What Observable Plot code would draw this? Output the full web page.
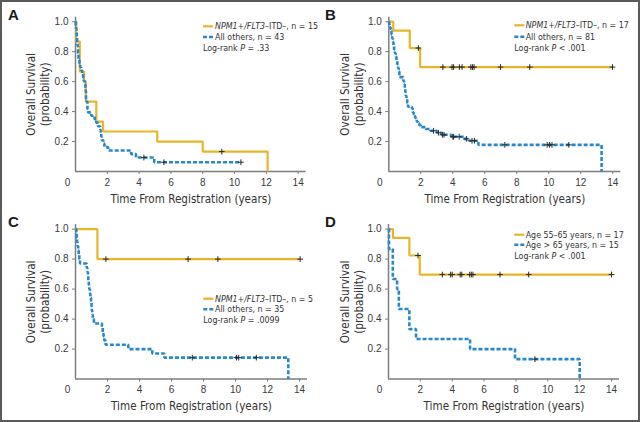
<!DOCTYPE html>
<html>
<head>
<meta charset="utf-8">
<script src="https://cdn.jsdelivr.net/npm/d3@7"></script>
<script src="https://cdn.jsdelivr.net/npm/@observablehq/plot@0.6"></script>
<style>
  body { margin: 0; background: #fff; }
  #root { position: relative; width: 640px; height: 422px; background: #fff; overflow: hidden; }
  .panel { position: absolute; width: 320px; height: 211px; }
  .panel svg { position: absolute; left: 0; top: 0; }
  .frame { position: absolute; left: 0; top: 0; width: 640px; height: 422px; box-sizing: border-box; border: 2px solid #5a5a5a; pointer-events: none; }
</style>
</head>
<body>
<div id="root"><div class="frame"></div></div>
<script>
// ---------- data ----------
const xTicks = [2, 4, 6, 8, 10, 12, 14];
const yTicks = [0.2, 0.4, 0.6, 0.8, 1.0];
const xTitle = "Time From Registration (years)";
const yTitle = "Overall Survival\n(probability)";

// Panel A
const aYellowT = [0, 0.05, 0.27, 0.54, 0.65, 1.31, 1.73, 5.14, 8.0, 12.08];
const aYellowS = [1, 0.867, 0.667, 0.6, 0.467, 0.333, 0.267, 0.2, 0.133, 0];
const aYellowCens = [9.2];
const aBlueT = [0, 0.02, 0.04, 0.06, 0.08, 0.1, 0.13, 0.16, 0.19, 0.25, 0.3, 0.36, 0.42, 0.48, 0.52, 0.58, 0.62, 0.64, 0.66, 0.7, 0.75, 0.78, 0.99, 1.2, 1.3, 1.4, 1.55, 1.58, 1.62, 1.65, 1.75, 1.82, 2.05, 3.5, 3.8, 4.95, 10.4];
const aBlueS = [1, 0.977, 0.953, 0.930, 0.907, 0.860, 0.837, 0.791, 0.744, 0.721, 0.698, 0.674, 0.651, 0.628, 0.605, 0.581, 0.558, 0.535, 0.488, 0.465, 0.419, 0.395, 0.372, 0.349, 0.326, 0.302, 0.279, 0.256, 0.233, 0.209, 0.186, 0.163, 0.140, 0.116, 0.093, 0.062, 0.062];
const aBlueCens = [4.3, 5.56, 10.4];

// Panel B
const bYellowT = [0, 0.28, 1.31, 1.96, 13.98];
const bYellowS = [1, 0.941, 0.824, 0.697, 0.697];
const bYellowCens = [1.85, 3.38, 3.95, 4.05, 4.41, 4.58, 5.13, 5.23, 5.33, 6.98, 8.81, 13.98];
const bBlueT = [0, 0.02, 0.05, 0.08, 0.11, 0.14, 0.17, 0.21, 0.25, 0.29, 0.33, 0.38, 0.43, 0.48, 0.53, 0.58, 0.62, 0.66, 0.9, 0.95, 1.0, 1.03, 1.06, 1.1, 1.15, 1.2, 1.45, 1.5, 1.55, 1.6, 1.65, 1.7, 1.75, 1.82, 1.9, 2.0, 2.3, 2.6, 3.0, 3.3, 3.9, 4.7, 5.0, 5.6, 13.3];
const bBlueS = [1, 0.988, 0.975, 0.963, 0.951, 0.938, 0.914, 0.889, 0.864, 0.840, 0.815, 0.790, 0.765, 0.741, 0.716, 0.691, 0.667, 0.630, 0.605, 0.580, 0.556, 0.531, 0.506, 0.482, 0.457, 0.432, 0.420, 0.395, 0.383, 0.370, 0.358, 0.346, 0.333, 0.321, 0.309, 0.296, 0.284, 0.272, 0.259, 0.245, 0.232, 0.218, 0.205, 0.178, 0];
const bBlueCens = [2.8, 3.1, 3.35, 3.45, 4.0, 4.05, 4.4, 4.85, 5.2, 5.35, 7.25, 9.9, 10.05, 10.2, 11.25];

// Panel C
const cYellowT = [0, 1.37, 14.04];
const cYellowS = [1, 0.8, 0.8];
const cYellowCens = [1.9, 7.04, 8.9, 14.04];
const cBlueT = [0, 0.05, 0.08, 0.1, 0.13, 0.17, 0.2, 0.24, 0.28, 0.7, 0.74, 0.78, 0.8, 0.83, 0.86, 0.9, 0.93, 0.97, 1.0, 1.02, 1.05, 1.08, 1.15, 1.65, 1.7, 1.75, 1.8, 1.88, 3.3, 4.8, 5.55, 13.3];
const cBlueS = [1, 0.971, 0.943, 0.914, 0.886, 0.857, 0.829, 0.8, 0.771, 0.743, 0.714, 0.686, 0.657, 0.629, 0.6, 0.571, 0.543, 0.514, 0.486, 0.457, 0.429, 0.4, 0.371, 0.343, 0.314, 0.286, 0.257, 0.229, 0.2, 0.171, 0.143, 0];
const cBlueCens = [7.3, 10.06, 10.2, 11.3];

// Panel D
const dYellowT = [0, 0.28, 1.31, 1.96, 14.0];
const dYellowS = [1, 0.941, 0.824, 0.697, 0.697];
const dYellowCens = [1.85, 3.38, 3.9, 4.0, 4.5, 4.6, 5.1, 5.2, 5.3, 7.0, 8.8, 14.0];
const dBlueT = [0, 0.03, 0.27, 0.54, 0.65, 1.31, 1.73, 5.12, 7.94, 12.0];
const dBlueS = [1, 0.867, 0.667, 0.6, 0.467, 0.333, 0.267, 0.2, 0.133, 0];
const dBlueCens = [9.19];

const legendA = ["NPM1+/FLT3|–ITD–, n = 15", "All others, n = 43", "= .33"];
const legendB = ["NPM1+/FLT3|–ITD–, n = 17", "All others, n = 81", "< .001"];
const legendC = ["NPM1+/FLT3|–ITD–, n = 5", "All others, n = 35", "= .0099"];
const legendD = ["|Age 55–65 years, n = 17", "Age > 65 years, n = 15", "< .001"];

// ---------- styling ----------
const YELLOW = "#e8b52a";
const BLUE = "#2a88c9";
const COND = '"Liberation Sans Narrow", "Arial Narrow", "DejaVu Sans Condensed", sans-serif';
const REG = '"Liberation Sans", Arial, sans-serif';

const panels = [
  {letter: "A", left: 0, top: 0, ml: 75, mr: 14.4, mt: 16.7, mb: 40, zdx: -8, ydx: -38, xdy: 28,
   letterPos: [8, 19.5],
   leg: {sx: 203, tx: 215, ys: [26.3, 37, 48.3], items: legendA},
   curves: [[aYellowT, aYellowS, aYellowCens, YELLOW, false], [aBlueT, aBlueS, aBlueCens, BLUE, true]]},
  {letter: "B", left: 320, top: 0, ml: 68.3, mr: 19.7, mt: 16.7, mb: 40, zdx: -9, ydx: -37.5, xdy: 28,
   letterPos: [5, 19.5],
   leg: {sx: 194.3, tx: 205.7, ys: [25.3, 36.7, 47.7], items: legendB},
   curves: [[bYellowT, bYellowS, bYellowCens, YELLOW, false], [bBlueT, bBlueS, bBlueCens, BLUE, true]]},
  {letter: "C", left: 0, top: 211, ml: 75, mr: 13, mt: 13.1, mb: 43.4, zdx: -8, ydx: -38, xdy: 27.5,
   letterPos: [8, 16],
   leg: {sx: 203.3, tx: 215, ys: [87.7, 98.3, 109], items: legendC},
   curves: [[cYellowT, cYellowS, cYellowCens, YELLOW, false], [cBlueT, cBlueS, cBlueCens, BLUE, true]]},
  {letter: "D", left: 320, top: 211, ml: 68, mr: 21, mt: 13.1, mb: 43.4, zdx: -9, ydx: -37, xdy: 27.5,
   letterPos: [5, 15.5],
   leg: {sx: 194.3, tx: 205.7, ys: [23.7, 33.7, 45], items: legendD},
   curves: [[dYellowT, dYellowS, dYellowCens, YELLOW, false], [dBlueT, dBlueS, dBlueCens, BLUE, true]]}
];

function stepAt(T, S, t) {
  const i = Math.max(0, d3.bisectRight(T, t) - 1);
  return S[i];
}

const root = document.getElementById("root");
for (const p of panels) {
  const div = document.createElement("div");
  div.className = "panel";
  div.style.left = p.left + "px";
  div.style.top = p.top + "px";

  const marks = [];
  // axis lines
  marks.push(Plot.ruleX([0], {stroke: "#7d7d7d", strokeWidth: 1.5}));
  marks.push(Plot.ruleY([0], {stroke: "#7d7d7d", strokeWidth: 1.5}));
  marks.push(Plot.axisY(yTicks, {tickSize: 3, tickPadding: 4, stroke: "#7d7d7d", fill: "#3a3a3a",
    fontSize: 10, fontFamily: REG, tickFormat: d => d.toFixed(1), label: null}));
  marks.push(Plot.axisX(xTicks, {tickSize: 3, tickPadding: 4, stroke: "#7d7d7d", fill: "#3a3a3a",
    fontSize: 10, fontFamily: REG, label: null}));
  marks.push(Plot.axisX([0], {tickSize: 0, tickPadding: 7, dx: p.zdx, fill: "#3a3a3a",
    fontSize: 10, fontFamily: REG, label: null}));
  // curves
  for (const [T, S, C, color, dashed] of p.curves) {
    const pts = T.map((t, i) => ({t, s: S[i]}));
    marks.push(Plot.line(pts, {x: "t", y: "s", curve: "step-after", stroke: color,
      strokeWidth: dashed ? 2.6 : 2.2, strokeDasharray: dashed ? "4,2" : null,
      strokeLinecap: "butt", strokeLinejoin: "miter"}));
  }
  for (const [T, S, C] of p.curves) {
    const cens = C.map(t => ({t, s: stepAt(T, S, t)}));
    marks.push(Plot.dot(cens, {x: "t", y: "s", symbol: "plus", r: 2, stroke: "#2a2a2a", strokeWidth: 1}));
  }
  // axis titles
  marks.push(Plot.text([xTitle], {text: d => d, frameAnchor: "bottom", dy: p.xdy, fontSize: 11.6,
    textAnchor: "middle", lineAnchor: "middle", fontFamily: COND, fill: "#333"}));
  marks.push(Plot.text([yTitle], {text: d => d, frameAnchor: "left", dx: p.ydx, rotate: -90,
    textAnchor: "middle", lineAnchor: "middle",
    fontSize: 11.6, lineHeight: 1.2, fontFamily: COND, fill: "#333"}));

  const chart = Plot.plot({
    width: 320, height: 211,
    marginLeft: p.ml, marginRight: p.mr, marginTop: p.mt, marginBottom: p.mb,
    x: {domain: [0, 14.5], label: null},
    y: {domain: [0, 1.03], label: null},
    style: {background: "transparent", fontFamily: REG, overflow: "visible"},
    marks
  });
  div.appendChild(chart);

  // panel letter + legend overlay
  const L = p.leg;
  const [l1, l2, l3] = L.items;
  const [it1, rest1] = l1.split("|");
  const ov = `
  <svg width="320" height="211" xmlns="http://www.w3.org/2000/svg" style="overflow:visible">
    <text x="${p.letterPos[0]}" y="${p.letterPos[1]}" font-family='${REG}' font-weight="bold" font-size="15" fill="#1a1a1a">${p.letter}</text>
    <line x1="${L.sx}" x2="${L.sx + 10}" y1="${L.ys[0]}" y2="${L.ys[0]}" stroke="${YELLOW}" stroke-width="2.2"/>
    <line x1="${L.sx}" x2="${L.sx + 10}" y1="${L.ys[1]}" y2="${L.ys[1]}" stroke="${BLUE}" stroke-width="2.6" stroke-dasharray="4,2"/>
    <g font-family='${COND}' font-size="8.8" fill="#333">
      <text x="${L.tx}" y="${L.ys[0] + 3.1}"><tspan font-style="italic">${it1}</tspan>${rest1}</text>
      <text x="${L.tx}" y="${L.ys[1] + 3.1}">${l2}</text>
      <text x="${L.sx}" y="${L.ys[2] + 3.1}">Log-rank <tspan font-style="italic">P</tspan> ${l3}</text>
    </g>
  </svg>`;
  const ovDiv = document.createElement("div");
  ovDiv.innerHTML = ov;
  div.appendChild(ovDiv.firstElementChild);
  root.appendChild(div);
}
</script>
</body>
</html>
